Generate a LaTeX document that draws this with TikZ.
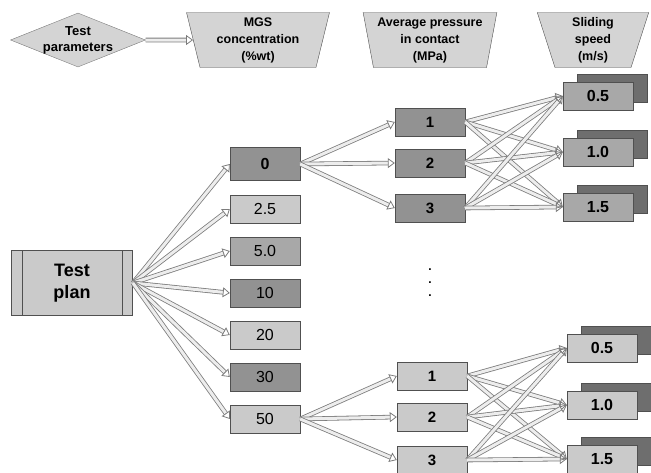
\documentclass[tikz,border=0pt]{standalone}
\usepackage{fontspec}
\setmainfont{Liberation Sans}
\usetikzlibrary{shapes.geometric,arrows.meta,shadows,calc}
\definecolor{boxline}{HTML}{505050}
\definecolor{hdrfill}{HTML}{D4D4D4}
\definecolor{arrline}{HTML}{7C7C7C}
\definecolor{arrfill}{HTML}{EDEDED}
\definecolor{darkfill}{HTML}{929292}
\definecolor{midfill}{HTML}{A8A8A8}
\definecolor{lightfill}{HTML}{CACACA}
\definecolor{backfill}{HTML}{6E6E6E}
\tikzset{
  hdr/.style={trapezium, shape border rotate=180, trapezium angle=78, trapezium stretches=true,
    draw=boxline, fill=hdrfill, minimum height=55pt, align=center, inner sep=0pt,
    font=\bfseries\fontsize{12.5}{17}\selectfont},
  lvl/.style={rectangle, draw=boxline, minimum width=70pt, minimum height=28pt, inner sep=0pt,
    font=\fontsize{16}{18}\selectfont},
  prs/.style={lvl, font=\bfseries\fontsize{15}{17}\selectfont},
  spd/.style={prs, font=\bfseries\fontsize{16}{18}\selectfont,
    copy shadow={shadow xshift=14pt, shadow yshift=8pt, fill=backfill, draw=boxline}},
  flow/.style={draw=arrline, double=arrfill, double distance=3pt, line width=0.8pt,
    -{Triangle[open, length=7pt, width=10pt]}},
}
\begin{document}
\begin{tikzpicture}[x=1pt, y=-1pt]
\useasboundingbox (0,0) rectangle (651,472);
% headers
\node[diamond, aspect=2.5, draw=arrline, fill=hdrfill, minimum width=135pt, minimum height=54pt, inner sep=-5pt, align=center,
  font=\bfseries\fontsize{13}{16}\selectfont] (h0) at (78,40) {Test\\parameters};
\node[hdr, minimum width=143pt] (h1) at (258,40) {MGS\\concentration\\(\%wt)};
\node[hdr, minimum width=134pt] (h2) at (430,40) {Average pressure\\in contact\\(MPa)};
\node[hdr, minimum width=112pt] (h3) at (593,40) {Sliding\\speed\\(m/s)};
\draw [flow] (h0.east) -- (h1.west);
% test plan
\node[rectangle, draw=boxline, thick, fill=lightfill, minimum width=121pt, minimum height=65pt, align=center,
  font=\bfseries\fontsize{18}{22}\selectfont] (tp) at (72,283) {Test\\plan};
\draw[boxline, thick] ($(tp.north west)+(11,0)$) -- ($(tp.south west)+(11,0)$);
\draw[boxline, thick] ($(tp.north east)+(-11,0)$) -- ($(tp.south east)+(-11,0)$);
% MGS concentration
\node[lvl, fill=darkfill, minimum height=33pt, font=\bfseries\fontsize{16}{18}\selectfont] (c1) at (265,164) {0};
\node[lvl, fill=lightfill] (c2) at (265,209) {2.5};
\node[lvl, fill=midfill] (c3) at (265,251) {5.0};
\node[lvl, fill=darkfill] (c4) at (265,293) {10};
\node[lvl, fill=lightfill] (c5) at (265,335) {20};
\node[lvl, fill=darkfill] (c6) at (265,377) {30};
\node[lvl, fill=lightfill] (c7) at (265,419) {50};
\draw [flow] (tp.east) -- (c1.west);
\draw [flow] (tp.east) -- (c2.west);
\draw [flow] (tp.east) -- (c3.west);
\draw [flow] (tp.east) -- (c4.west);
\draw [flow] (tp.east) -- (c5.west);
\draw [flow] (tp.east) -- (c6.west);
\draw [flow] (tp.east) -- (c7.west);
% pressure, upper group
\node[prs, fill=darkfill] (p1) at (430,122) {1};
\node[prs, fill=darkfill] (p2) at (430,163) {2};
\node[prs, fill=darkfill] (p3) at (430,208) {3};
% speed, upper group
\node[spd, fill=midfill] (s1) at (598,96) {0.5};
\node[spd, fill=midfill] (s2) at (598,152) {1.0};
\node[spd, fill=midfill] (s3) at (598,207) {1.5};
\draw [flow] (c1.east) -- (p1.west);
\draw [flow] (c1.east) -- (p2.west);
\draw [flow] (c1.east) -- (p3.west);
\draw [flow] (p1.east) -- (s1.west);
\draw [flow] (p1.east) -- (s2.west);
\draw [flow] (p1.east) -- (s3.west);
\draw [flow] (p2.east) -- (s1.west);
\draw [flow] (p2.east) -- (s2.west);
\draw [flow] (p2.east) -- (s3.west);
\draw [flow] (p3.east) -- (s1.west);
\draw [flow] (p3.east) -- (s2.west);
\draw [flow] (p3.east) -- (s3.west);
% dots
\node[align=center, font=\bfseries\fontsize{12}{13}\selectfont] (dots) at (430,283) {.\\.\\.};
% pressure, lower group
\node[prs, fill=lightfill] (q1) at (432,376) {1};
\node[prs, fill=lightfill] (q2) at (432,417) {2};
\node[prs, fill=lightfill] (q3) at (432,460) {3};
% speed, lower group
\node[spd, fill=lightfill] (r1) at (602,348) {0.5};
\node[spd, fill=lightfill] (r2) at (602,405) {1.0};
\node[spd, fill=lightfill] (r3) at (602,459) {1.5};
\draw [flow] (c7.east) -- (q1.west);
\draw [flow] (c7.east) -- (q2.west);
\draw [flow] (c7.east) -- (q3.west);
\draw [flow] (q1.east) -- (r1.west);
\draw [flow] (q1.east) -- (r2.west);
\draw [flow] (q1.east) -- (r3.west);
\draw [flow] (q2.east) -- (r1.west);
\draw [flow] (q2.east) -- (r2.west);
\draw [flow] (q2.east) -- (r3.west);
\draw [flow] (q3.east) -- (r1.west);
\draw [flow] (q3.east) -- (r2.west);
\draw [flow] (q3.east) -- (r3.west);
\end{tikzpicture}
\end{document}
